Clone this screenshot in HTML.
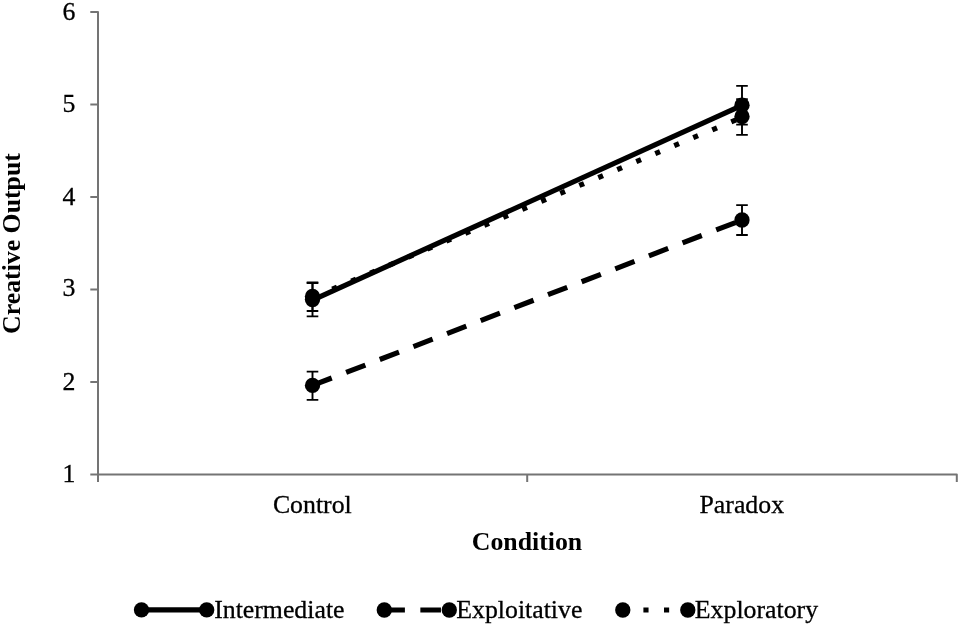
<!DOCTYPE html>
<html><head><meta charset="utf-8"><style>
html,body{margin:0;padding:0;background:#fff;}
body{width:961px;height:626px;overflow:hidden;}
svg{display:block;}
svg{will-change:transform;}
text{font-family:"Liberation Serif",serif;font-size:25.8px;fill:#000;stroke:#000;stroke-width:0.3px;}
.b{font-weight:bold;stroke-width:0;}
</style></head><body>
<svg width="961" height="626" viewBox="0 0 961 626">
<rect width="961" height="626" fill="#fff"/>

<g stroke="#747474" stroke-width="2" fill="none" stroke-linejoin="round">
<path d="M90.3 12.00 H98 V482"/>
<path d="M97 474.5 H956.8 V482"/>
<path d="M90.3 474.50 H98"/>
<path d="M90.3 382.00 H98"/>
<path d="M90.3 289.50 H98"/>
<path d="M90.3 197.00 H98"/>
<path d="M90.3 104.50 H98"/>
<path d="M527.2 474.5 V482"/>
</g>
<text x="75.3" y="482.20" text-anchor="end">1</text>
<text x="75.3" y="390.00" text-anchor="end">2</text>
<text x="75.3" y="296.10" text-anchor="end">3</text>
<text x="75.3" y="205.00" text-anchor="end">4</text>
<text x="75.3" y="111.50" text-anchor="end">5</text>
<text x="75.3" y="20.00" text-anchor="end">6</text>
<text x="312.3" y="513" text-anchor="middle">Control</text>
<text x="741.8" y="513" text-anchor="middle">Paradox</text>
<text class="b" x="527" y="550" text-anchor="middle">Condition</text>
<text class="b" transform="translate(20.4 243.5) rotate(-90)" text-anchor="middle">Creative Output</text>
<path d="M312.5 300.1 L742 105.4" stroke="#000" stroke-width="5.15" fill="none"/>
<path d="M312.5 297.3 L742 117.3" stroke="#000" stroke-width="5.15" fill="none" stroke-dasharray="5.15 15.45" stroke-dashoffset="-0.85"/>
<path d="M312.5 385.4 L742 220" stroke="#000" stroke-width="5.15" fill="none" stroke-dasharray="20.60 15.45" stroke-dashoffset="0"/>
<path d="M312.5 283 V316.4 M306.7 283 H318.3 M306.7 316.4 H318.3" stroke="#000" stroke-width="1.9" fill="none"/>
<path d="M742 85.9 V124.6 M736.2 85.9 H747.8 M736.2 124.6 H747.8" stroke="#000" stroke-width="1.9" fill="none"/>
<path d="M312.5 282.5 V311 M306.7 282.5 H318.3 M306.7 311 H318.3" stroke="#000" stroke-width="1.9" fill="none"/>
<path d="M742 99.2 V134.9 M736.2 99.2 H747.8 M736.2 134.9 H747.8" stroke="#000" stroke-width="1.9" fill="none"/>
<path d="M312.5 371.6 V399.9 M306.7 371.6 H318.3 M306.7 399.9 H318.3" stroke="#000" stroke-width="1.9" fill="none"/>
<path d="M742 205.1 V235 M736.2 205.1 H747.8 M736.2 235 H747.8" stroke="#000" stroke-width="1.9" fill="none"/>
<circle cx="312.5" cy="299.5" r="7.65" fill="#000"/>
<circle cx="742" cy="105.2" r="7.65" fill="#000"/>
<circle cx="312.5" cy="296.5" r="7.65" fill="#000"/>
<circle cx="742" cy="116.5" r="7.65" fill="#000"/>
<circle cx="312.5" cy="385.4" r="7.65" fill="#000"/>
<circle cx="742" cy="220" r="7.65" fill="#000"/>
<path d="M141.5 609.9 H206.7" stroke="#000" stroke-width="5.15" fill="none"/>
<circle cx="141.5" cy="609.9" r="7.65" fill="#000"/><circle cx="206.7" cy="609.9" r="7.65" fill="#000"/>
<text x="214.17" y="617.8">Intermediate</text>
<path d="M384.3 610 H449.3" stroke="#000" stroke-width="5.15" fill="none" stroke-dasharray="20.60 15.45"/>
<circle cx="384.3" cy="610" r="7.65" fill="#000"/><circle cx="449.3" cy="610" r="7.65" fill="#000"/>
<text x="456.27" y="617.8">Exploitative</text>
<path d="M622.8 610 H687.8" stroke="#000" stroke-width="5.15" fill="none" stroke-dasharray="5.15 15.45"/>
<circle cx="622.8" cy="610" r="7.65" fill="#000"/><circle cx="687.8" cy="610" r="7.65" fill="#000"/>
<text x="694.87" y="617.8">Exploratory</text>
</svg></body></html>
